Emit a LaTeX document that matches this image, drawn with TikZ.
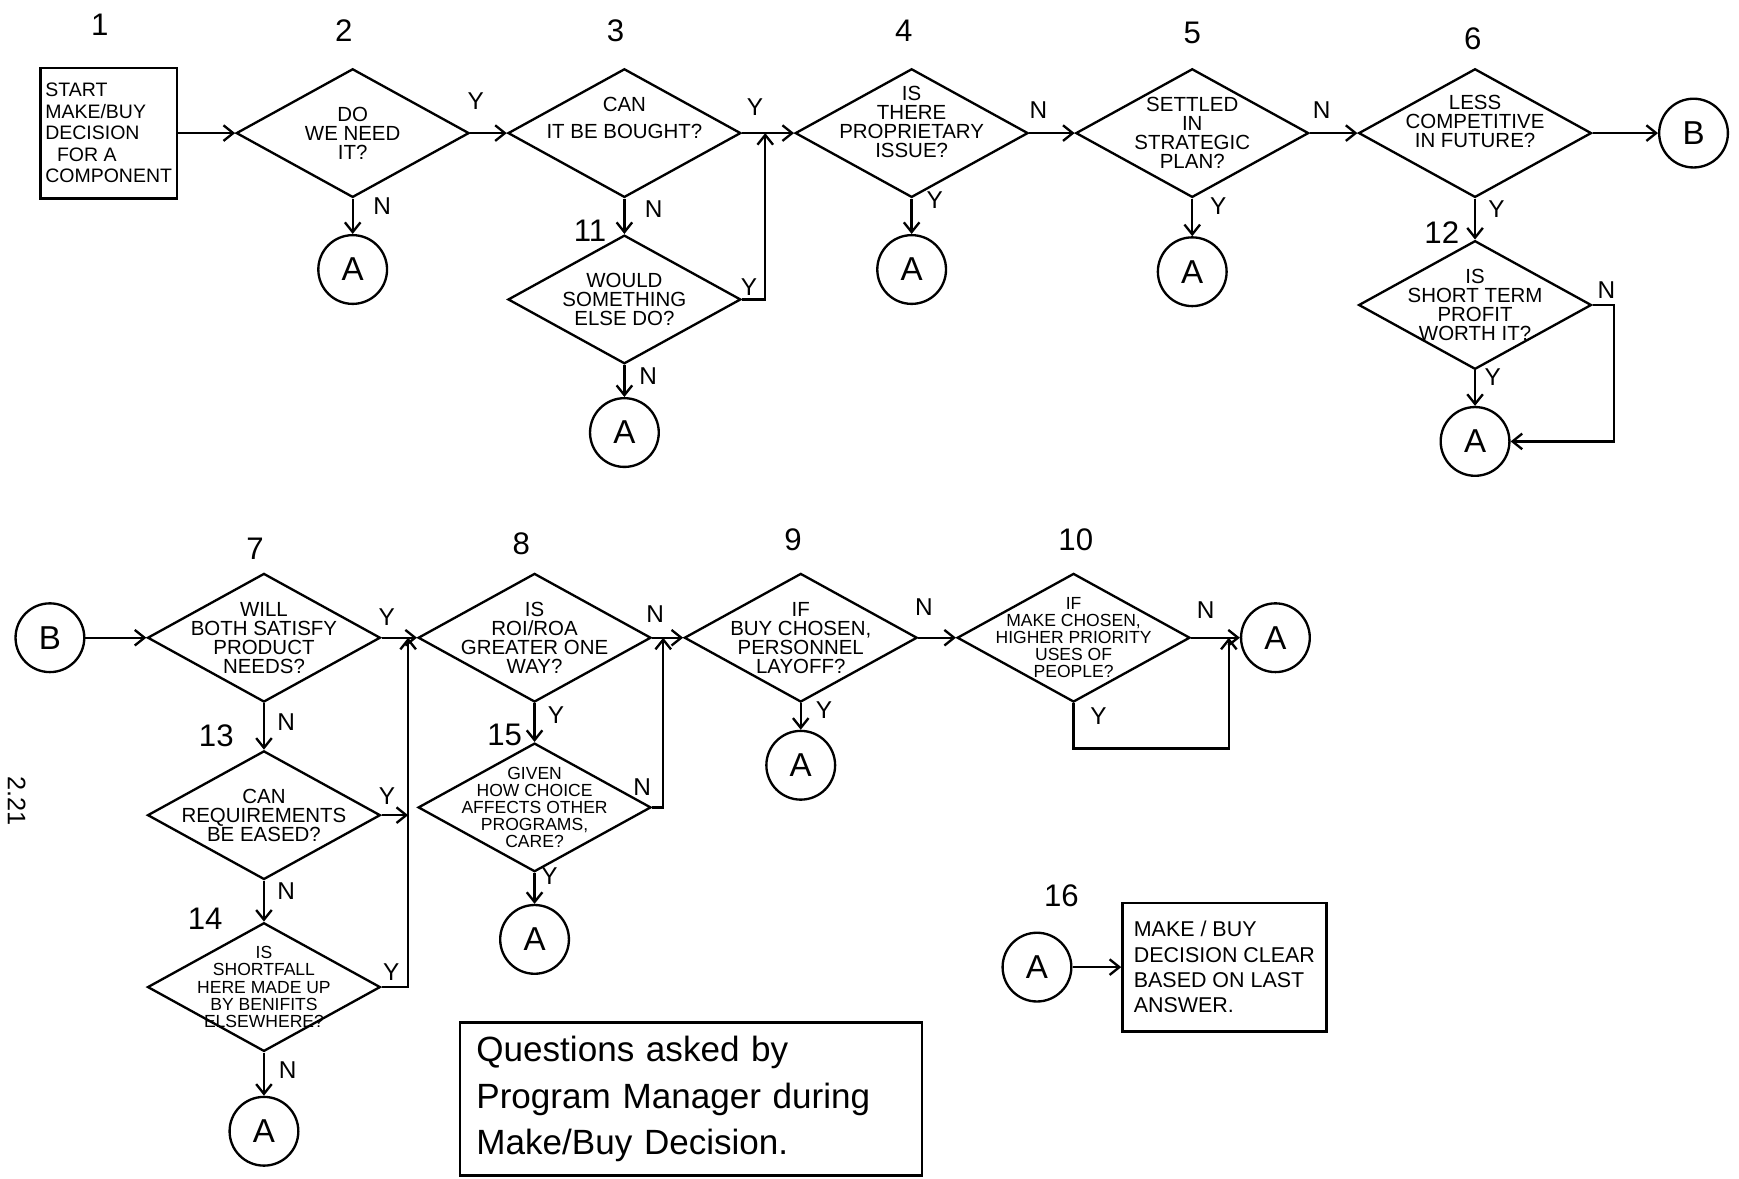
\documentclass[tikz,border=0pt]{standalone}
\usepackage{fontspec}
\setmainfont{Liberation Sans}
\usepackage{tikz}
\usetikzlibrary{shapes.geometric}
\usetikzlibrary{arrows.meta}

\begin{document}
\begin{tikzpicture}[x = .02cm, y = -.02cm, line width = 1.2pt,
  decision/.style = {draw, diamond, minimum width = 4.2cm, minimum height = 2.32cm, inner sep = 0},
  qtext/.style = {align = center, inner sep = 0, font = \fontsize{10.5}{9.8}\selectfont},
  smallq/.style = {font = \fontsize{9}{8.8}\selectfont},
  conn/.style = {draw, circle, minimum size = 1.24cm, inner sep = 0, font = \fontsize{17}{17}\selectfont},
  textbox/.style = {draw, rectangle, align = left, inner sep = 2pt, font = \fontsize{10}{11}\selectfont},
  flow/.style = {-{Straight Barb[length = 5pt, width = 8pt]}},
  yn/.style = {inner sep = 0, font = \fontsize{12.5}{12.5}\selectfont},
  stepno/.style = {inner sep = 0, font = \fontsize{16}{16}\selectfont}]
 \useasboundingbox (0, 0) rectangle (1568, 1063);
 \node[rotate = -90, inner sep = 0, font = \fontsize{13}{13}\selectfont] (page) at (15, 722) {2.21};

 % step numbers
 \node[stepno] (s1) at (90, 22) {1};
 \node[stepno] (s2) at (310, 28) {2};
 \node[stepno] (s3) at (555, 28) {3};
 \node[stepno] (s4) at (815, 28) {4};
 \node[stepno] (s5) at (1075, 30) {5};
 \node[stepno] (s6) at (1328, 35) {6};
 \node[stepno] (s11) at (532, 208) {11};
 \node[stepno] (s12) at (1300, 210) {12};
 \node[stepno] (s7) at (230, 495) {7};
 \node[stepno] (s8) at (470, 490) {8};
 \node[stepno] (s9) at (715, 487) {9};
 \node[stepno] (s10) at (970, 487) {10};
 \node[stepno] (s13) at (195, 663) {13};
 \node[stepno] (s14) at (185, 828) {14};
 \node[stepno] (s15) at (455, 663) {15};
 \node[stepno] (s16) at (957, 808) {16};

 % first row
 \node[textbox, minimum width = 2.46cm, minimum height = 2.36cm] (start) at (98, 120) {START\\MAKE/BUY\\DECISION\\\hspace{.6em}FOR A\\COMPONENT};
 \node[decision, label = {[qtext]center:{DO\\WE NEED\\IT?}}] (d2) at (318, 120) {};
 \node[decision, label = {[qtext]center:{CAN\\[4pt]IT BE BOUGHT?\\[6pt]}}] (d3) at (563, 120) {};
 \node[decision, label = {[qtext]center:{IS\\THERE\\PROPRIETARY\\ISSUE?\\[2pt]}}] (d4) at (822, 120) {};
 \node[decision, label = {[qtext]center:{SETTLED\\IN\\STRATEGIC\\PLAN?}}] (d5) at (1075, 120) {};
 \node[decision, label = {[qtext]center:{LESS\\COMPETITIVE\\IN FUTURE?\\[2pt]}}] (d6) at (1330, 120) {};
 \node[conn] (b1) at (1527, 120) {B};
 \node[decision, label = {[qtext]center:{WOULD\\SOMETHING\\ELSE DO?}}] (d11) at (563, 270) {};
 \node[decision, label = {[qtext]center:{IS\\SHORT TERM\\PROFIT\\WORTH IT?}}] (d12) at (1330, 275) {};
 \node[conn] (a2) at (318, 243) {A};
 \node[conn] (a11) at (563, 390) {A};
 \node[conn] (a4) at (822, 243) {A};
 \node[conn] (a5) at (1075, 245) {A};
 \node[conn] (a12) at (1330, 398) {A};

 % second row
 \node[conn] (b2) at (45, 575) {B};
 \node[decision, label = {[qtext]center:{WILL\\BOTH SATISFY\\PRODUCT\\NEEDS?}}] (d7) at (238, 575) {};
 \node[decision, label = {[qtext]center:{IS\\ROI/ROA\\GREATER ONE\\WAY?}}] (d8) at (482, 575) {};
 \node[decision, label = {[qtext]center:{IF\\BUY CHOSEN,\\PERSONNEL\\LAYOFF?}}] (d9) at (722, 575) {};
 \node[decision, label = {[qtext, smallq]center:{IF\\MAKE CHOSEN,\\HIGHER PRIORITY\\USES OF\\PEOPLE?}}] (d10) at (968, 575) {};
 \node[conn] (aend) at (1150, 575) {A};
 \node[decision, label = {[qtext]center:{CAN\\REQUIREMENTS\\BE EASED?}}] (d13) at (238, 735) {};
 \node[decision, label = {[qtext, smallq]center:{IS\\SHORTFALL\\HERE MADE UP\\BY BENIFITS\\ELSEWHERE?}}] (d14) at (238, 890) {};
 \node[conn] (a14) at (238, 1020) {A};
 \node[decision, label = {[qtext, smallq]center:{GIVEN\\HOW CHOICE\\AFFECTS OTHER\\PROGRAMS,\\CARE?}}] (d15) at (482, 728) {};
 \node[conn] (a15) at (482, 847) {A};
 \node[conn] (a9) at (722, 690) {A};

 \node[conn] (a16) at (935, 872) {A};
 \node[textbox, minimum width = 3.68cm, minimum height = 2.32cm, font = \fontsize{11}{13}\selectfont] (final) at (1104, 872) {MAKE / BUY\\DECISION CLEAR\\BASED ON LAST\\ANSWER.};
 \node[textbox, minimum height = 2.76cm, text width = 7.74cm, inner xsep = .3cm, font = \fontsize{18}{24}\selectfont] (note) at (623, 991) {Questions asked by\\Program Manager during\\Make/Buy Decision.};

 \coordinate (j34) at (690, 120);
 \coordinate (c12) at (1455, 275);
 \coordinate (j78) at (368, 575);
 \coordinate (j13) at (368, 735);
 \coordinate (j89) at (598, 575);
 \coordinate (j10) at (1108, 575);
 \coordinate (c10) at (1108, 675);

 % connectors
 \draw[flow] (start.east) -- (d2.west);
 \draw[flow] (d2.east) -- node[yn, pos = .15, above = .4cm] (d2y) {Y} (d3.west);
 \draw[flow] (d2.south) -- node[yn, pos = .2, right = .35cm] (d2n) {N} (a2.north);
 \draw[flow] (d3.east) -- node[yn, pos = .25, above = .3cm] (d3y) {Y} (d4.west);
 \draw[flow] (d3.south) -- node[yn, pos = .3, right = .35cm] (d3n) {N} (d11.north);
 \draw[flow] (d11.east) -| node[yn, pos = .15, above = .05cm] (d11y) {Y} (j34);
 \draw[flow] (d11.south) -- node[yn, pos = .35, right = .25cm] (d11n) {N} (a11.north);
 \draw[flow] (d4.east) -- node[yn, pos = .2, above = .25cm] (d4n) {N} (d5.west);
 \draw[flow] (d4.south) -- node[yn, pos = .05, right = .25cm] (d4y) {Y} (a4.north);
 \draw[flow] (d5.east) -- node[yn, pos = .25, above = .25cm] (d5n) {N} (d6.west);
 \draw[flow] (d5.south) -- node[yn, pos = .2, right = .3cm] (d5y) {Y} (a5.north);
 \draw[flow] (d6.east) -- (b1.west);
 \draw[flow] (d6.south) -- node[yn, pos = .25, right = .22cm] (d6y) {Y} (d12.north);
 \draw[flow] (d12.east) -- node[yn, pos = .65, above = .1cm] (d12n) {N} (c12) |- (a12.east);
 \draw[flow] (d12.south) -- node[yn, pos = .2, right = .15cm] (d12y) {Y} (a12.north);

 \draw[flow] (b2.east) -- (d7.west);
 \draw[flow] (d7.east) -- node[yn, pos = .15, above = .2cm] (d7y) {Y} (d8.west);
 \draw[flow] (d7.south) -- node[yn, pos = .4, right = .22cm] (d7n) {N} (d13.north);
 \draw[flow] (d13.east) -- node[yn, pos = .2, above = .18cm] (d13y) {Y} (j13);
 \draw[flow] (d13.south) -- node[yn, pos = .25, right = .22cm] (d13n) {N} (d14.north);
 \draw[flow] (d14.east) -| node[yn, pos = .18, above = .1cm] (d14y) {Y} (j78);
 \draw[flow] (d14.south) -- node[yn, pos = .4, right = .25cm] (d14n) {N} (a14.north);
 \draw[flow] (d8.east) -- node[yn, pos = .1, above = .25cm] (d8n) {N} (d9.west);
 \draw[flow] (d8.south) -- node[yn, pos = .3, right = .22cm] (d8y) {Y} (d15.north);
 \draw[flow] (d15.east) -| node[yn, at start, anchor = south east, yshift = .2cm] (d15n) {N} (j89);
 \draw[flow] (d15.south) -- node[yn, pos = .1, right = .1cm] (d15y) {Y} (a15.north);
 \draw[flow] (d9.east) -- node[yn, pos = .15, above = .38cm] (d9n) {N} (d10.west);
 \draw[flow] (d9.south) -- node[yn, pos = .25, right = .25cm] (d9y) {Y} (a9.north);
 \draw[flow] (d10.east) -- node[yn, pos = .3, above = .33cm] (d10n) {N} (aend.west);
 \draw[flow] (d10.south) |- node[yn, pos = .14, right = .28cm] (d10y) {Y} (c10) -- (j10);
 \draw[flow] (a16.east) -- (final.west);
\end{tikzpicture}
\end{document}
